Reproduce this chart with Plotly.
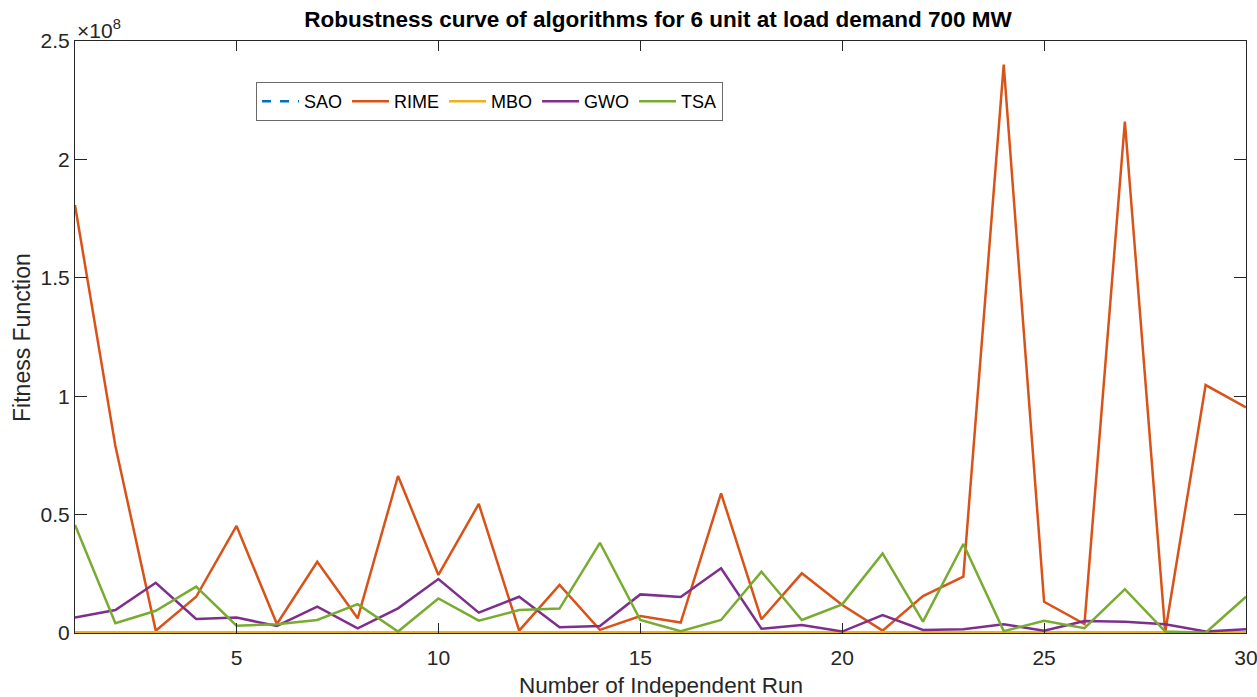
import plotly.graph_objects as go

# Independent run index
runs = list(range(1, 31))

# Best fitness value per run for each algorithm
sao = [2.1e5, 2.0e5, 2.2e5, 2.1e5, 2.0e5, 2.1e5, 2.2e5, 2.0e5, 2.1e5, 2.0e5,
       2.1e5, 2.2e5, 2.0e5, 2.1e5, 2.0e5, 2.1e5, 2.2e5, 2.0e5, 2.1e5, 2.0e5,
       2.1e5, 2.2e5, 2.0e5, 2.1e5, 2.0e5, 2.1e5, 2.2e5, 2.0e5, 2.1e5, 2.0e5]
rime = [180.7e6, 79.0e6, 1.0e6, 15.3e6, 45.2e6, 3.8e6, 30.1e6, 6.2e6, 66.3e6, 24.5e6,
        54.5e6, 1.0e6, 20.3e6, 1.3e6, 7.2e6, 4.4e6, 59.0e6, 5.8e6, 25.2e6, 11.8e6,
        1.0e6, 15.6e6, 23.8e6, 240.0e6, 13.2e6, 3.8e6, 216.0e6, 0.4e6, 104.7e6, 95.3e6]
mbo = [3.0e5, 3.1e5, 2.9e5, 3.0e5, 3.1e5, 3.0e5, 2.9e5, 3.0e5, 3.1e5, 3.0e5,
       2.9e5, 3.0e5, 3.1e5, 3.0e5, 2.9e5, 3.0e5, 3.1e5, 3.0e5, 2.9e5, 3.0e5,
       3.1e5, 3.0e5, 2.9e5, 3.0e5, 3.1e5, 3.0e5, 2.9e5, 3.0e5, 3.1e5, 3.0e5]
gwo = [6.5e6, 9.7e6, 21.2e6, 5.9e6, 6.5e6, 3.0e6, 11.1e6, 2.0e6, 10.4e6, 22.8e6,
       8.6e6, 15.3e6, 2.4e6, 3.0e6, 16.3e6, 15.2e6, 27.3e6, 1.8e6, 3.4e6, 0.6e6,
       7.6e6, 1.3e6, 1.6e6, 3.7e6, 1.0e6, 5.1e6, 4.8e6, 3.7e6, 0.6e6, 1.6e6]
tsa = [45.6e6, 4.1e6, 9.4e6, 19.6e6, 3.1e6, 3.7e6, 5.5e6, 12.2e6, 0.6e6, 14.6e6,
       5.2e6, 9.7e6, 10.3e6, 38.1e6, 5.5e6, 0.8e6, 5.5e6, 25.9e6, 5.5e6, 12.1e6,
       33.6e6, 4.8e6, 37.6e6, 0.8e6, 5.2e6, 2.0e6, 18.5e6, 0.6e6, 0.1e6, 15.3e6]

# Axis ticks
x_ticks = [5, 10, 15, 20, 25, 30]
y_ticks = [0, 0.5e8, 1e8, 1.5e8, 2e8, 2.5e8]
y_tick_text = ["0", "0.5", "1", "1.5", "2", "2.5"]

series = [
    ("SAO", sao, "#0072BD", "dash"),
    ("RIME", rime, "#D95319", "solid"),
    ("MBO", mbo, "#EDB120", "solid"),
    ("GWO", gwo, "#7E2F8E", "solid"),
    ("TSA", tsa, "#77AC30", "solid"),
]

font_family = "Liberation Sans, Arial, sans-serif"
ink = "#262626"

fig = go.Figure()
for name, vals, color, dash in series:
    fig.add_trace(go.Scatter(
        x=runs, y=vals, mode="lines", name=name,
        line=dict(color=color, width=2.5, dash=dash),
    ))

axis_common = dict(
    showgrid=False, zeroline=False, showline=True, linecolor=ink, linewidth=1,
    mirror="ticks", ticks="inside", tickcolor=ink, tickwidth=1, automargin=False,
    ticklabeloverflow="allow",
    tickfont=dict(family=font_family, size=21, color=ink),
)

fig.update_layout(
    width=1257, height=697,
    margin=dict(l=75, r=11, t=41, b=64),
    paper_bgcolor="white", plot_bgcolor="white",
    title=dict(
        text="<b>Robustness curve of algorithms for 6 unit at load demand 700 MW</b>",
        x=0.5235, xanchor="center", y=0.972, yanchor="middle",
        font=dict(family=font_family, size=22.5, color="black"),
    ),
    xaxis=dict(range=[1, 30], tickvals=x_ticks, ticklen=10, ticklabelstandoff=6,
               **axis_common),
    yaxis=dict(range=[0, 2.5e8], tickvals=y_ticks, ticktext=y_tick_text, ticklen=12,
               **axis_common),
    legend=dict(
        orientation="h", x=0.1546, y=0.9307, xanchor="left", yanchor="top",
        bgcolor="white", bordercolor="#6a6a6a", borderwidth=1,
        font=dict(family=font_family, size=18, color="black"),
        itemwidth=37, tracegroupgap=0,
    ),
    showlegend=True,
)

# Axis titles
fig.add_annotation(
    xref="paper", yref="paper", x=0.5, y=-0.0895, xanchor="center", yanchor="middle",
    text="Number of Independent Run", showarrow=False,
    font=dict(family=font_family, size=22.5, color=ink),
)
fig.add_annotation(
    xref="paper", yref="paper", x=-0.0453, y=0.5, xanchor="center", yanchor="middle",
    text="Fitness Function", showarrow=False, textangle=-90,
    font=dict(family=font_family, size=23, color=ink),
)

# Exponent multiplier for the y axis
fig.add_annotation(
    xref="paper", yref="paper", x=0, y=1, xanchor="left", yanchor="bottom",
    text="×10<sup>8</sup>", showarrow=False, yshift=-3,
    font=dict(family=font_family, size=21, color=ink),
)

fig.write_html("out.html")
